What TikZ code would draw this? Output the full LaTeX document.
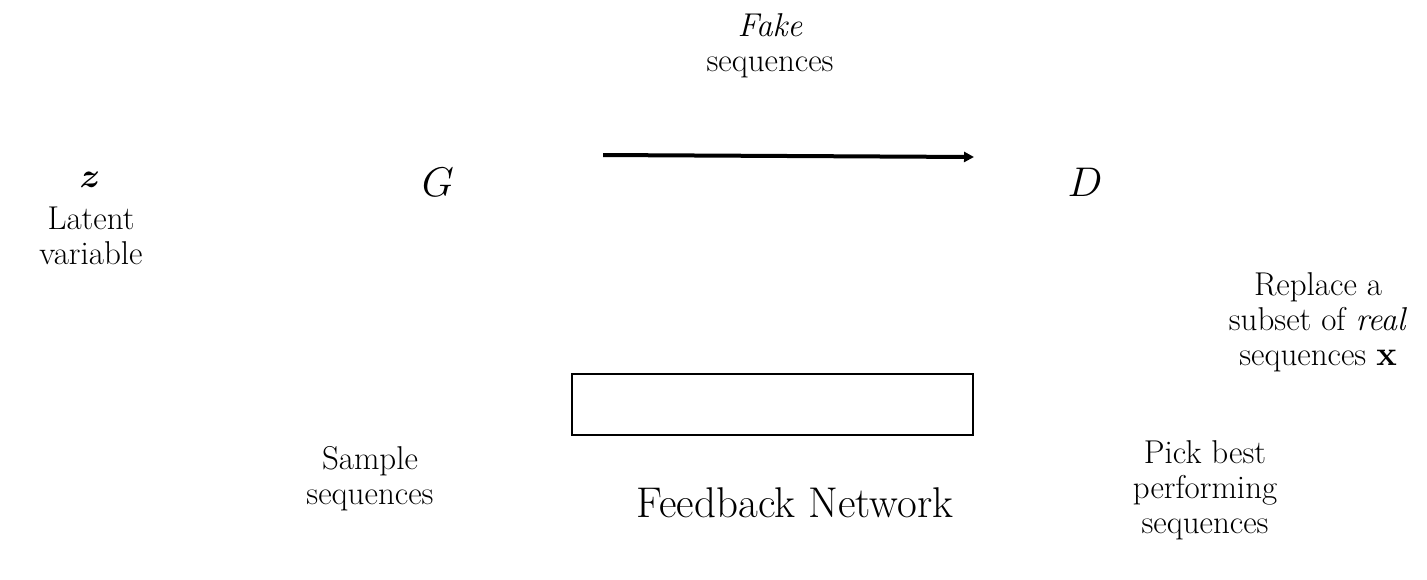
\documentclass[tikz,border=0pt]{standalone}
\usepackage{amsmath}
\usepackage{bm}
\usepackage{tikz}
\usetikzlibrary{positioning}
\usetikzlibrary{arrows.meta}

\tikzset{
    label/.style={align=center, inner sep=0pt, font=\fontsize{16.5}{17.5}\selectfont},
    player/.style={inner sep=0pt, font=\fontsize{22}{26}\selectfont},
    fbbox/.style={draw, line width=1pt, minimum width=200.5pt, minimum height=30.5pt, inner sep=0pt},
}

\begin{document}
\begin{tikzpicture}[x=0.5pt,y=-0.5pt]
    \useasboundingbox (0,0) rectangle (1427,579);

    \node[label] (z) at (90,180) {$\bm{z}$};
    \node[label] (latent) at (91,236) {Latent\\variable};

    \node[player] (G) at (438,182) {$G$};
    \node[player] (D) at (1085,182) {$D$};

    \node[label] (fake) at (770,46) {\textit{Fake}\\sequences};
    \coordinate (fakestart) at (603,155);
    \coordinate (fakeend) at (974,157);
    \draw[line width=2pt, -{Triangle[length=5pt,width=5pt]}] (fakestart) -- (fakeend);

    \node[label] (replace) at (1318,322) {Replace a\\subset of \textit{real}\\sequences $\mathbf{x}$};

    \node[fbbox] (fb) at (772.5,404.5) {};
    \node[inner sep=0pt, font=\fontsize{21.5}{24}\selectfont] (fbtext) at (795,503) {Feedback Network};

    \node[label] (sample) at (370,479) {Sample\\sequences};
    \node[label] (pick) at (1205,490) {Pick best\\performing\\sequences};
\end{tikzpicture}
\end{document}
